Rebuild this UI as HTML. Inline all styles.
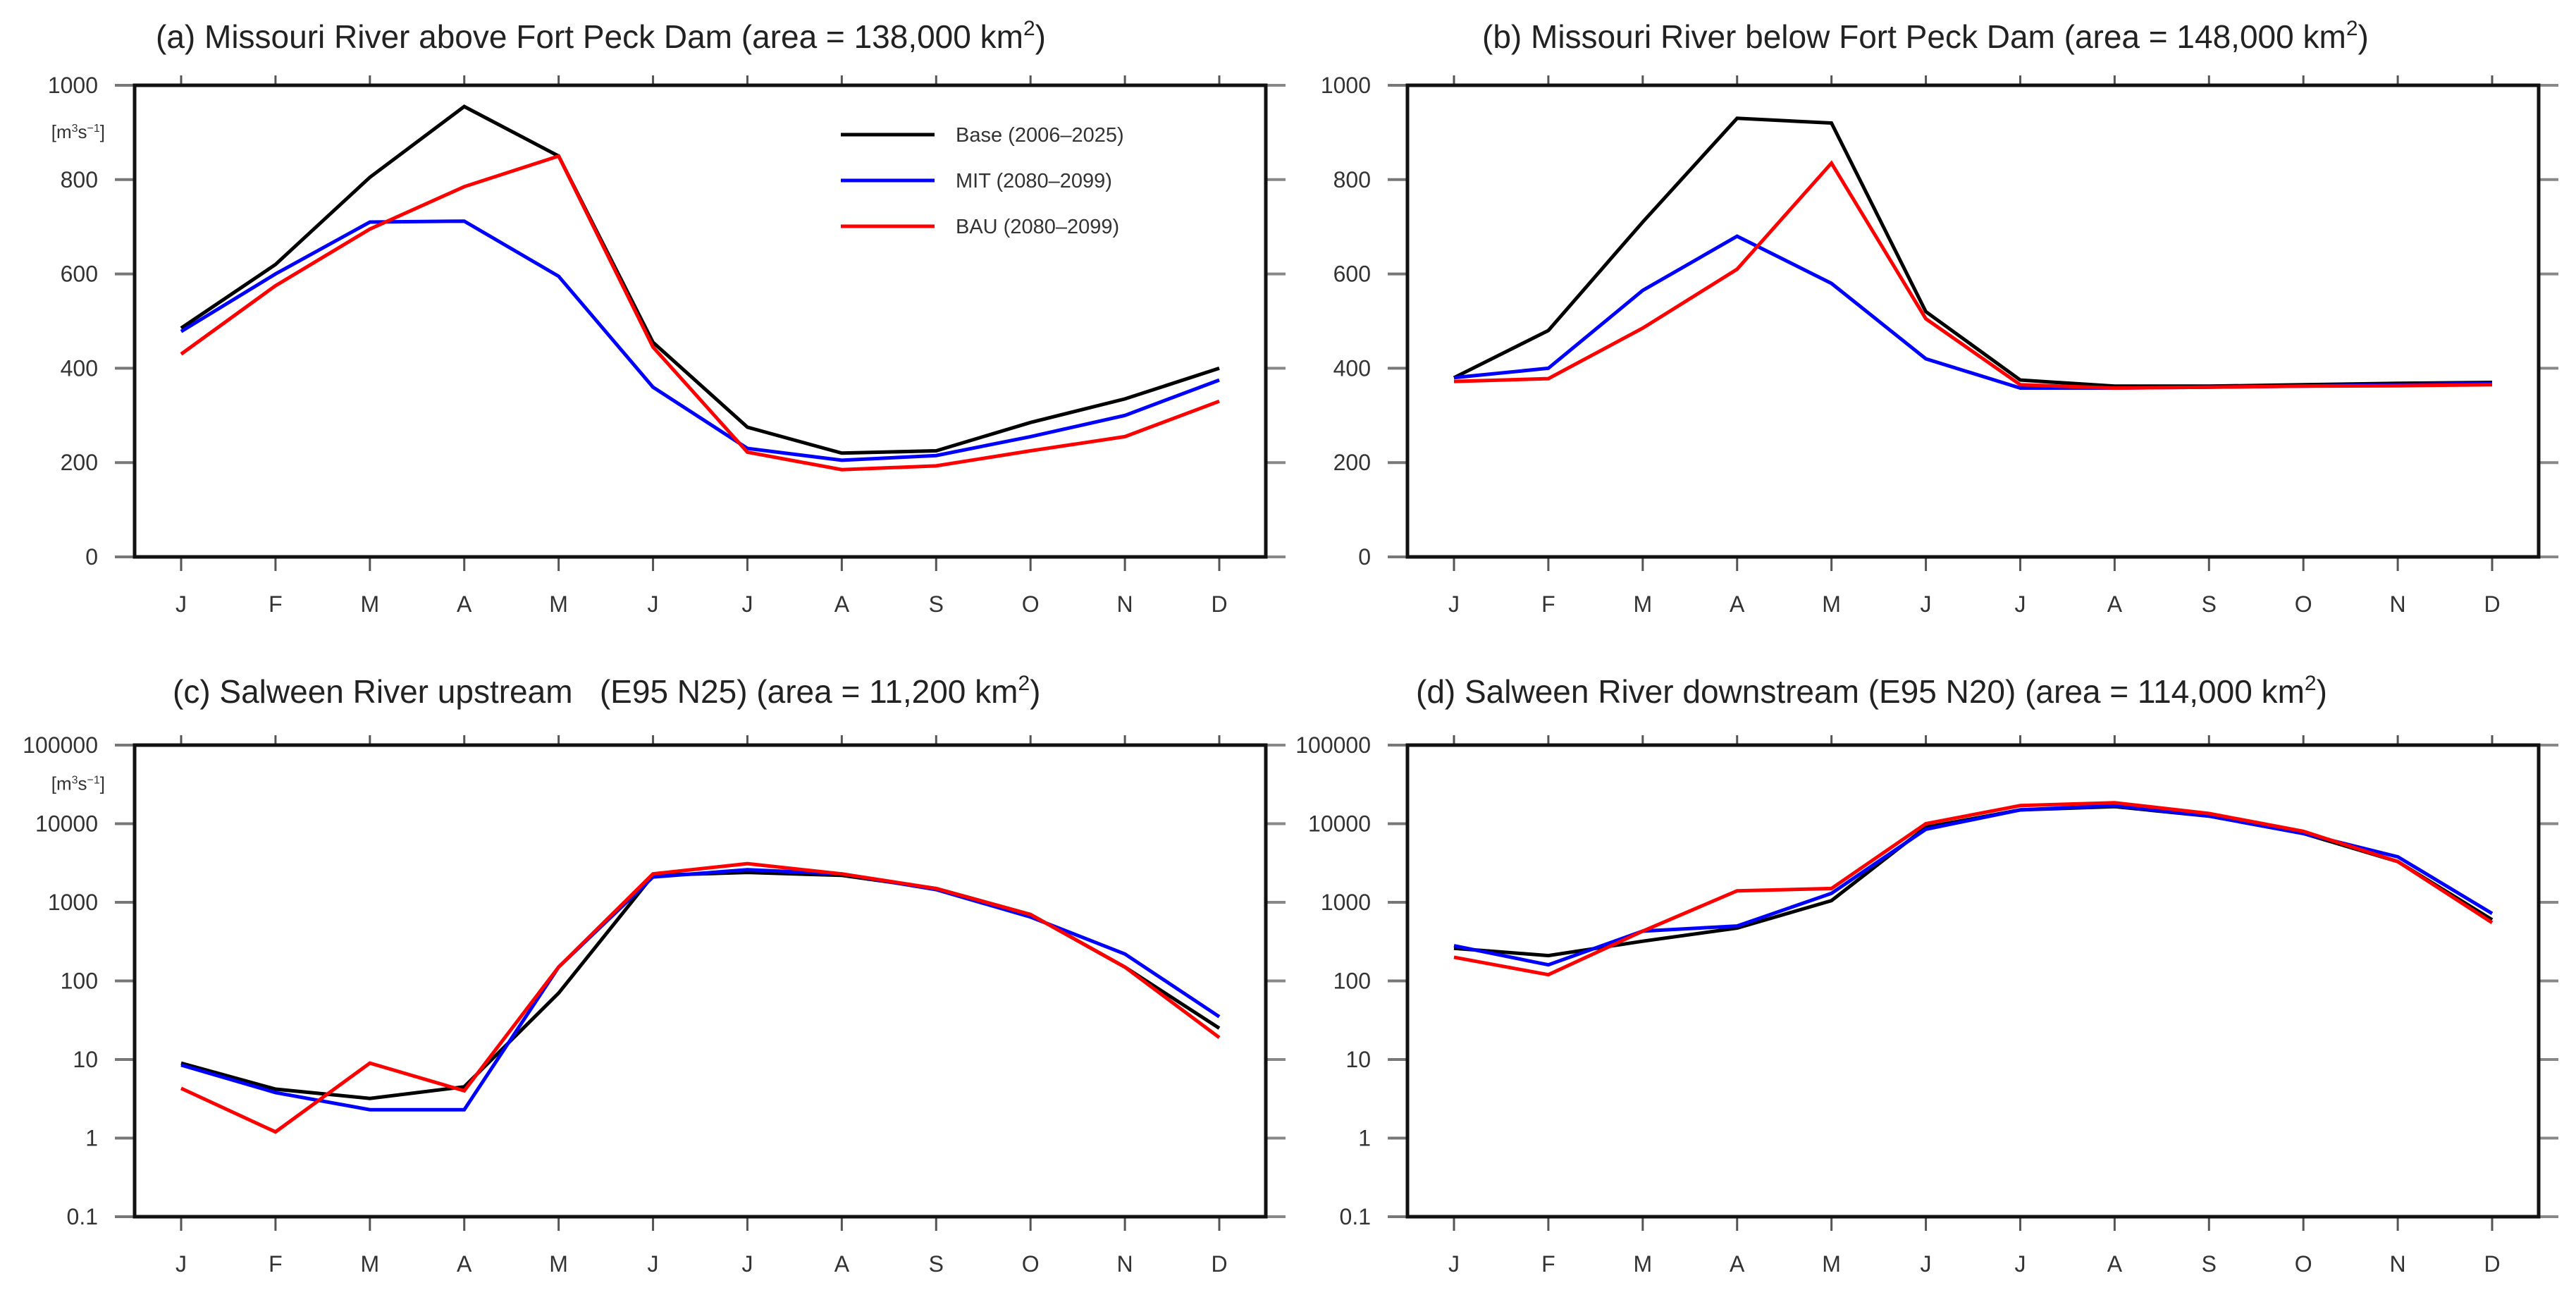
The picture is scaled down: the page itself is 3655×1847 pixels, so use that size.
<!DOCTYPE html>
<html><head><meta charset="utf-8"><style>
html,body{margin:0;padding:0;background:#fff;}
svg{display:block;font-family:"Liberation Sans",sans-serif;}
</style></head><body>
<svg id="fig" width="3655" height="1847" viewBox="0 0 3655 1847" xmlns="http://www.w3.org/2000/svg"></svg>
<script>
const months = ["J","F","M","A","M","J","J","A","S","O","N","D"];
const seriesNames = ["Base (2006–2025)","MIT (2080–2099)","BAU (2080–2099)"];
const seriesColors = ["#000000","#0000ff","#ff0000"];
const linTicks = [0,200,400,600,800,1000];
const logTicks = [0.1,1,10,100,1000,10000,100000];
const logTickLabels = ["0.1","1","10","100","1000","10000","100000"];
const aBase = [485,620,805,955,850,455,275,220,225,285,335,400];
const aMIT  = [478,600,710,712,595,360,230,205,215,255,300,375];
const aBAU  = [430,575,695,785,850,445,222,185,193,225,255,330];
const bBase = [380,480,710,930,920,520,375,362,362,365,368,370];
const bMIT  = [380,400,565,680,580,420,358,358,360,362,365,368];
const bBAU  = [372,378,485,610,835,505,365,358,360,362,363,365];
const cBase = [9,4.2,3.2,4.5,70,2200,2400,2200,1500,700,150,25];
const cMIT  = [8.5,3.8,2.3,2.3,150,2100,2600,2300,1450,650,220,35];
const cBAU  = [4.3,1.2,9,4,150,2300,3100,2300,1500,700,150,19];
const dBase = [260,210,320,470,1050,9000,15000,16500,12500,7500,3300,600];
const dMIT  = [280,160,430,500,1300,8500,15000,17000,12500,7500,3800,720];
const dBAU  = [200,120,430,1400,1500,10000,17000,18500,13500,8000,3300,550];

const NS="http://www.w3.org/2000/svg";
const svg=document.getElementById('fig');
function mk(tag,attrs,parent){const e=document.createElementNS(NS,tag);for(const k in attrs)e.setAttribute(k,attrs[k]);(parent||svg).appendChild(e);return e;}

const panels=[
 {id:'a',x0:191,x1:1796,y0:121,y1:790,log:false,data:[aBase,aMIT,aBAU],title:"(a) Missouri River above Fort Peck Dam (area = 138,000 km",tx0:221,ty:68,unit:true,legend:true},
 {id:'b',x0:1997,x1:3602,y0:121,y1:790,log:false,data:[bBase,bMIT,bBAU],title:"(b) Missouri River below Fort Peck Dam (area = 148,000 km",tx0:2103,ty:68},
 {id:'c',x0:191,x1:1796,y0:1057,y1:1726,log:true,data:[cBase,cMIT,cBAU],title:"(c) Salween River upstream \u00a0\u00a0(E95 N25) (area = 11,200 km",tx0:245,ty:997,unit:true},
 {id:'d',x0:1997,x1:3602,y0:1057,y1:1726,log:true,data:[dBase,dMIT,dBAU],title:"(d) Salween River downstream (E95 N20) (area = 114,000 km",tx0:2009,ty:997}
];

panels.forEach(p=>{
  const g=mk('g',{});
  
  
  const xs=i=>p.x0+66+i*(p.x1-p.x0-132)/11;
  const ys=p.log?(v=>p.y1-(Math.log10(v)+1)/6*(p.y1-p.y0)):(v=>p.y1-v/1000*(p.y1-p.y0));
  const t=mk('text',{x:p.tx0,y:p.ty,'font-size':46,fill:'#222'},g);
  
  
  t.textContent=p.title;
  const sup=mk('tspan',{'font-size':30,dy:-18},t);sup.textContent="2";
  const cl=mk('tspan',{'font-size':46,dy:18},t);cl.textContent=")";
  months.forEach((m,i)=>{
    const x=xs(i);
    mk('line',{x1:x,x2:x,y1:p.y0-14,y2:p.y0,stroke:'#555','stroke-width':3},g);
    mk('line',{x1:x,x2:x,y1:p.y1,y2:p.y1+20,stroke:'#555','stroke-width':3},g);
    const l=mk('text',{x:x,y:p.y1+78,'font-size':32,'text-anchor':'middle',fill:'#333'},g);
    
    
    l.textContent=m;
  });
  const tv=p.log?logTicks:linTicks;
  tv.forEach((v,i)=>{
    const y=ys(v);
    mk('line',{x1:p.x0-28,x2:p.x0,y1:y,y2:y,stroke:'#777','stroke-width':4},g);
    mk('line',{x1:p.x1,x2:p.x1+28,y1:y,y2:y,stroke:'#888','stroke-width':4},g);
    const l=mk('text',{x:p.x0-52,y:y+11,'font-size':32,'text-anchor':'end',fill:'#333'},g);
    
    
    l.textContent=p.log?logTickLabels[i]:String(v);
  });
  if(p.unit){
    const u=mk('text',{x:p.x0-42,y:ys(p.log?31623:900)+8,'font-size':26,'text-anchor':'end',fill:'#333'},g);
    
    
    u.innerHTML='[m<tspan dy="-9" font-size="16">3</tspan><tspan dy="9">s</tspan><tspan dy="-9" font-size="16">−1</tspan><tspan dy="9">]</tspan>';
  }
  p.data.forEach((arr,si)=>{
    const pts=arr.map((v,i)=>xs(i).toFixed(1)+','+ys(v).toFixed(1)).join(' ');
    const pl=mk('polyline',{points:pts,fill:'none',stroke:seriesColors[si],'stroke-width':5,'stroke-linejoin':'miter'},g);
    
    
  });
  const f=mk('rect',{x:p.x0,y:p.y0,width:p.x1-p.x0,height:p.y1-p.y0,fill:'none',stroke:'#111','stroke-width':5},g);
  
  
  if(p.legend){
    seriesNames.forEach((n,si)=>{
      const y=191+si*65;
      const lg=mk('g',{},g);
      
      
      mk('line',{x1:1193,x2:1326,y1:y,y2:y,stroke:seriesColors[si],'stroke-width':5},lg);
      const tt=mk('text',{x:1356,y:y+10,'font-size':29,fill:'#333'},lg);
      tt.textContent=n;
    });
  }
});
</script>
</body></html>
